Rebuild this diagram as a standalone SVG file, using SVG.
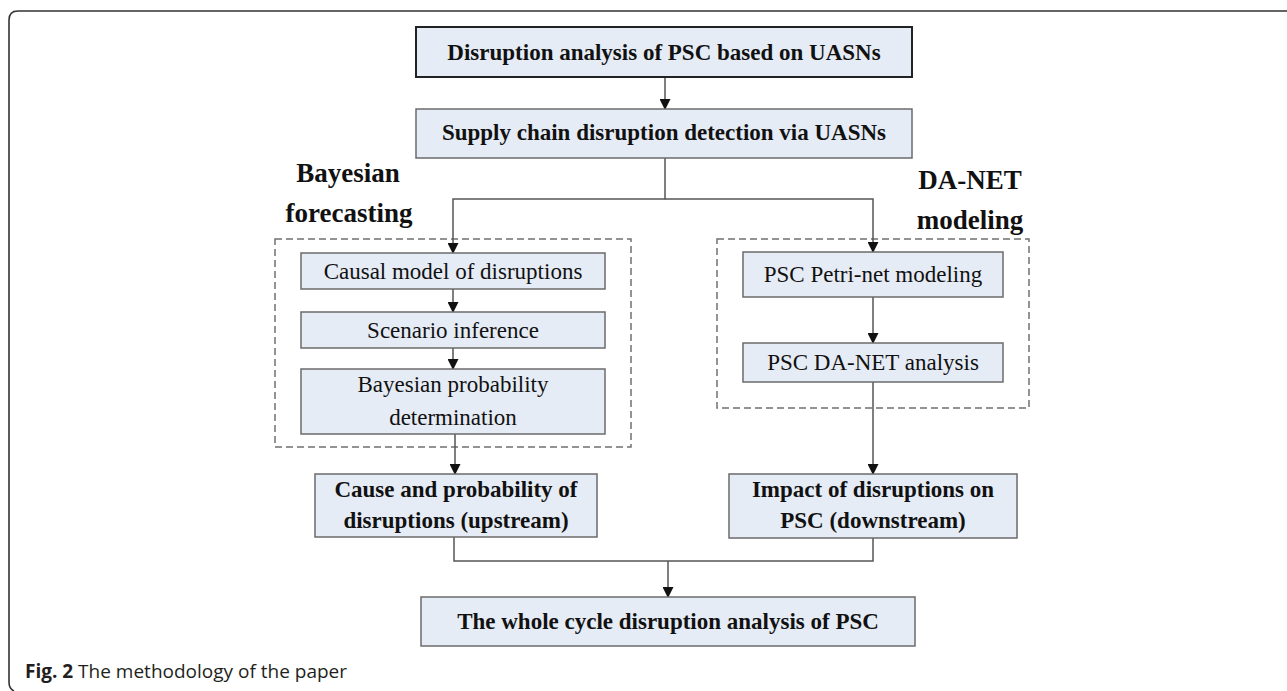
<svg xmlns="http://www.w3.org/2000/svg" width="1287" height="691" viewBox="0 0 1287 691">
  <style>
    .box { fill: #e6ecf6; stroke: #6b6b6b; stroke-width: 1.5; }
    .box-main { fill: #e6ecf6; stroke: #222; stroke-width: 2; }
    .group { fill: none; stroke: #707070; stroke-width: 1.5; stroke-dasharray: 7 4; }
    .wire { fill: none; stroke: #555; stroke-width: 1.5; }
    .bold { font-family: "Liberation Serif", "Times New Roman", serif; font-weight: bold; font-size: 23px; fill: #111; text-anchor: middle; }
    .reg { font-family: "Liberation Serif", "Times New Roman", serif; font-size: 23px; fill: #111; text-anchor: middle; }
    .label { font-family: "Liberation Serif", "Times New Roman", serif; font-weight: bold; font-size: 27px; fill: #111; text-anchor: middle; }
    .caption { font-family: "Open Sans", "Noto Sans", sans-serif; font-size: 19px; fill: #231f20; }
  </style>
  <defs>
    <marker id="arrow" markerWidth="11" markerHeight="11" refX="10" refY="5.5" orient="auto" markerUnits="userSpaceOnUse">
      <path d="M0,0 L11,5.5 L0,11 Z" fill="#111"/>
    </marker>
  </defs>

  <!-- page frame -->
  <path d="M1287,11 L18,11 Q9,11 9,20 L9,682 Q9,689 14,691" fill="none" stroke="#333" stroke-width="1.6"/>

  <!-- dashed method groups -->
  <g id="group-bayesian">
    <rect class="group" x="275" y="239" width="356" height="208"/>
    <text class="label" x="348" y="182">Bayesian</text>
    <text class="label" x="349" y="222">forecasting</text>
  </g>
  <g id="group-danet">
    <rect class="group" x="717" y="239" width="312" height="169"/>
    <text class="label" x="970" y="189">DA-NET</text>
    <text class="label" x="970" y="229">modeling</text>
  </g>

  <!-- connectors -->
  <g id="connectors">
    <line class="wire" x1="665" y1="77" x2="665" y2="109" marker-end="url(#arrow)"/>
    <polyline class="wire" points="665,158 665,199 453,199 453,253" marker-end="url(#arrow)"/>
    <polyline class="wire" points="665,199 873,199 873,252" marker-end="url(#arrow)"/>
    <line class="wire" x1="453" y1="289" x2="453" y2="312" marker-end="url(#arrow)"/>
    <line class="wire" x1="453" y1="348" x2="453" y2="369" marker-end="url(#arrow)"/>
    <line class="wire" x1="455" y1="434" x2="455" y2="474" marker-end="url(#arrow)"/>
    <line class="wire" x1="873" y1="297" x2="873" y2="343" marker-end="url(#arrow)"/>
    <line class="wire" x1="873" y1="382" x2="873" y2="474" marker-end="url(#arrow)"/>
    <polyline class="wire" points="454,537 454,561 873,561 873,538"/>
    <line class="wire" x1="668" y1="561" x2="668" y2="597" marker-end="url(#arrow)"/>
  </g>

  <!-- nodes -->
  <g id="node-start">
    <rect class="box-main" x="416" y="27" width="496" height="50"/>
    <text class="bold" x="664" y="60">Disruption analysis of PSC based on UASNs</text>
  </g>
  <g id="node-detection">
    <rect class="box" x="416" y="109" width="496" height="49"/>
    <text class="bold" x="664" y="140">Supply chain disruption detection via UASNs</text>
  </g>
  <g id="node-causal">
    <rect class="box" x="301" y="253" width="304" height="36"/>
    <text class="reg" x="453" y="279">Causal model of disruptions</text>
  </g>
  <g id="node-scenario">
    <rect class="box" x="301" y="312" width="304" height="36"/>
    <text class="reg" x="453" y="338">Scenario inference</text>
  </g>
  <g id="node-probability">
    <rect class="box" x="301" y="369" width="304" height="65"/>
    <text class="reg" x="453" y="392">Bayesian probability</text>
    <text class="reg" x="453" y="425">determination</text>
  </g>
  <g id="node-petri">
    <rect class="box" x="743" y="252" width="260" height="45"/>
    <text class="reg" x="873" y="282">PSC Petri-net modeling</text>
  </g>
  <g id="node-danet">
    <rect class="box" x="743" y="343" width="260" height="39"/>
    <text class="reg" x="873" y="370">PSC DA-NET analysis</text>
  </g>
  <g id="node-cause">
    <rect class="box" x="315" y="474" width="282" height="63"/>
    <text class="bold" x="456" y="497">Cause and probability of</text>
    <text class="bold" x="456" y="528">disruptions (upstream)</text>
  </g>
  <g id="node-impact">
    <rect class="box" x="729" y="474" width="288" height="64"/>
    <text class="bold" x="873" y="497">Impact of disruptions on</text>
    <text class="bold" x="873" y="528">PSC (downstream)</text>
  </g>
  <g id="node-whole">
    <rect class="box" x="421" y="597" width="494" height="49"/>
    <text class="bold" x="668" y="629">The whole cycle disruption analysis of PSC</text>
  </g>

  <!-- caption -->
  <text class="caption" x="25" y="678"><tspan font-weight="bold">Fig. 2</tspan> The methodology of the paper</text>
</svg>
